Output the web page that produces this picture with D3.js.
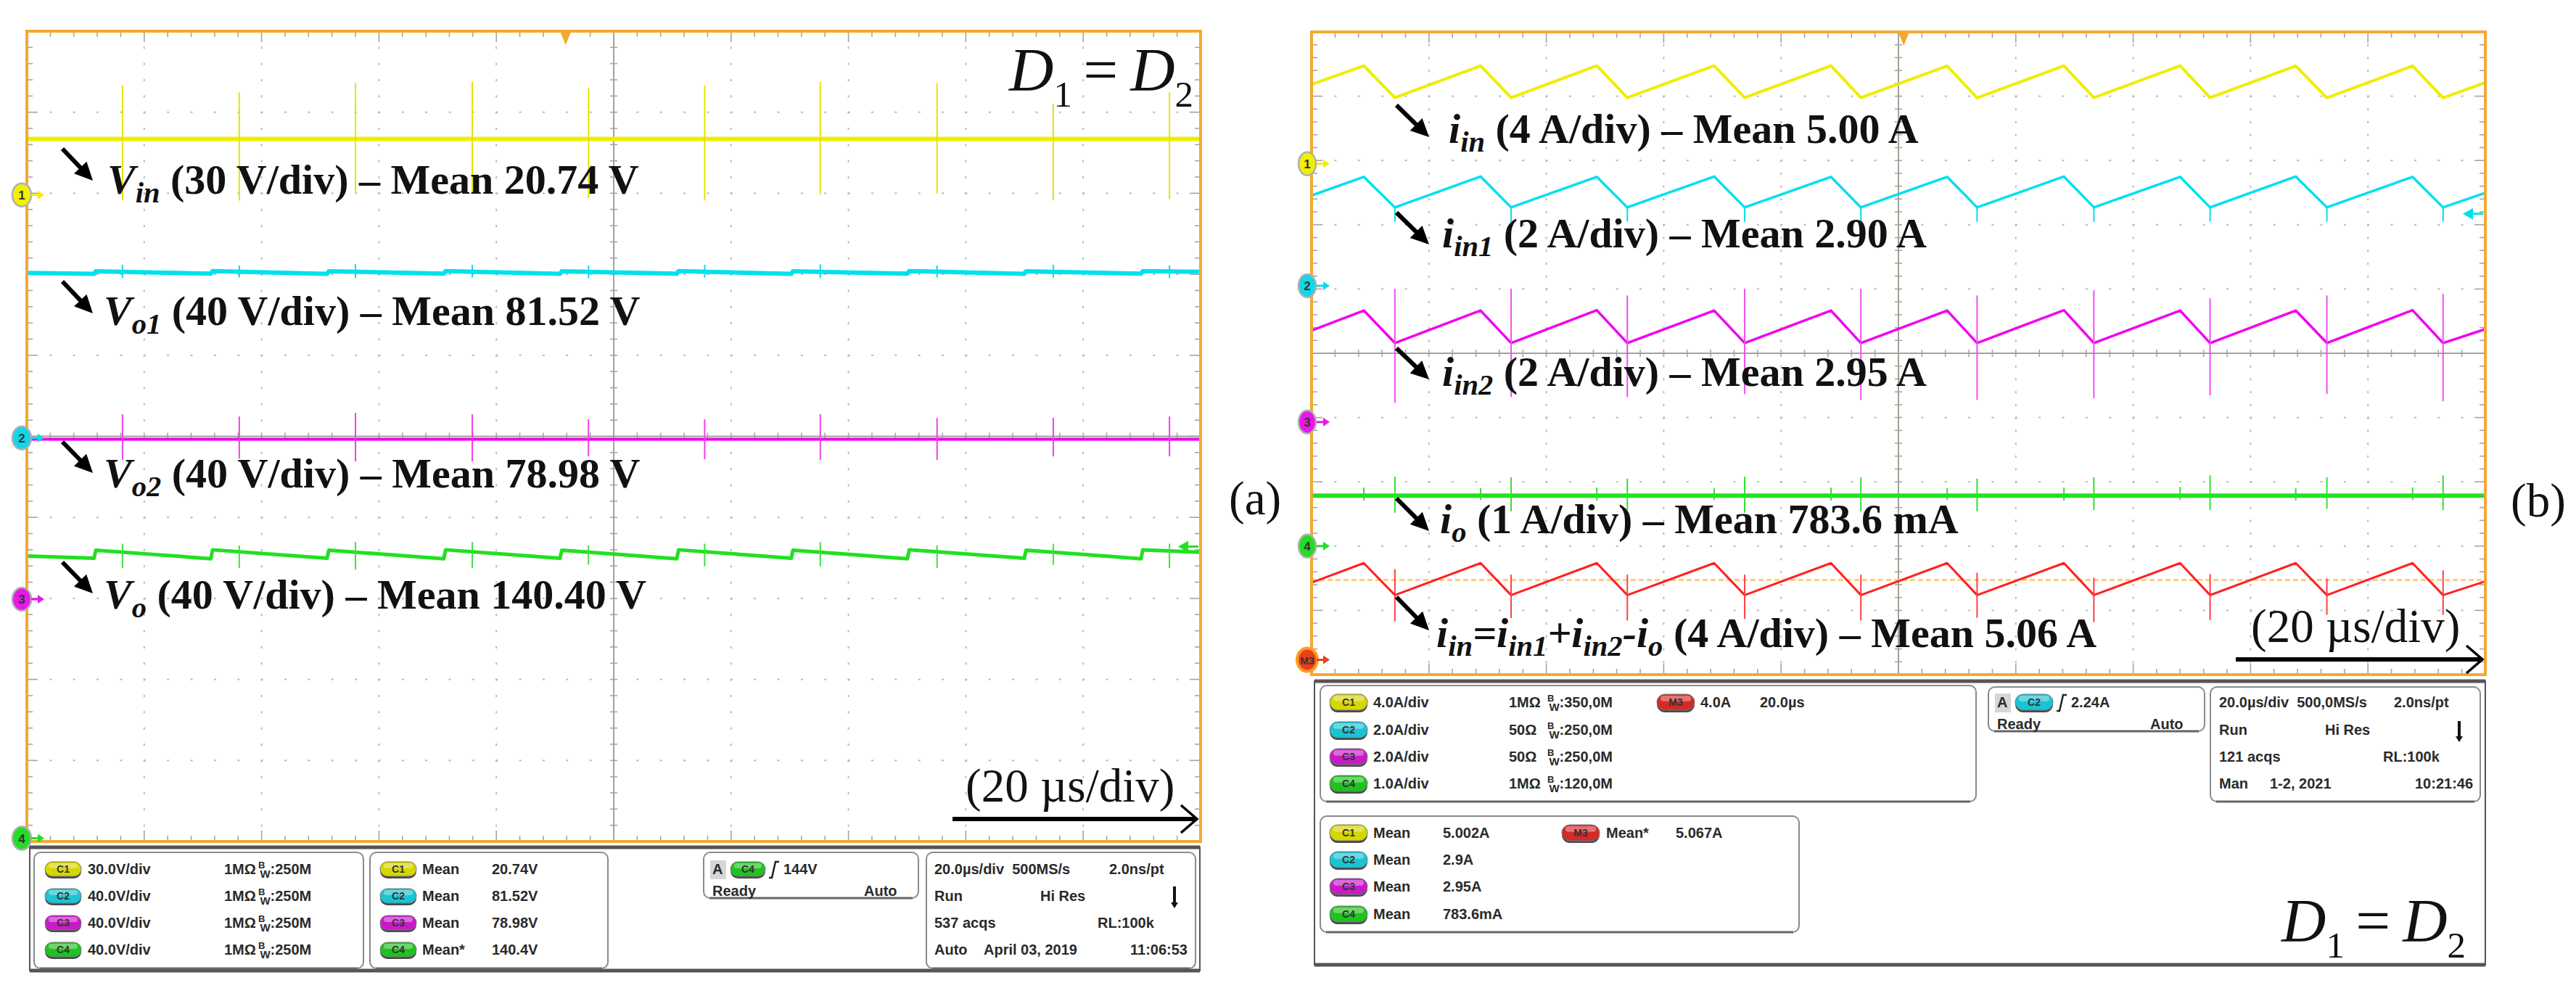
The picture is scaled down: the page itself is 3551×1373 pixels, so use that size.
<!DOCTYPE html>
<html><head><meta charset="utf-8">
<script src="https://cdn.jsdelivr.net/npm/d3@7"></script>
<style>body{margin:0;background:#fff}svg{display:block}text{white-space:pre}</style>
</head><body><svg id="chart"></svg>
<script>
// ======================= DATA =======================
const timeDomainUs = [0, 200];          // 10 div x 20 us/div
// ---- panel (a): voltages ----
const aChannelIds = ["1", "2", "3", "4"];
const aVoltsPerDiv = [30, 40, 40, 40];
const aMeanV = [20.74, 81.52, 78.98, 140.40];
const aSwitchUs = [16.3, 36.2, 56.0, 75.9, 95.7, 115.5, 135.2, 155.1, 174.9, 194.7];
const vinSpikeTopV = [40.5, 37.9, 41.4, 41.9, 39.5, 40.5, 41.9, 41.4, 33.8, 37.9];
const vinSpikeBottomV = [-2.1, -2.1, 0.5, 0.5, -1.1, -2.1, 0.3, 0.5, -2.1, -1.6];
const vo1SpikeTopV = [85.5, 85.2, 85.8, 85.5, 85.2, 85.5, 85.8, 85.2, 85.5, 85.2];
const vo1SpikeBottomV = [78.9, 79.2, 78.9, 79.2, 78.9, 79.2, 78.9, 79.2, 79.2, 78.9];
const vo2SpikeTopV = [91.3, 90.2, 92.0, 91.3, 88.8, 88.8, 91.3, 89.5, 89.5, 90.2];
const vo2SpikeBottomV = [68.8, 69.5, 68.0, 68.0, 70.5, 69.1, 68.8, 68.8, 70.5, 70.5];
const voSpikeTopV = [145.4, 144.6, 146.2, 146.2, 144.6, 145.4, 146.2, 144.6, 145.4, 145.4];
const voSpikeBottomV = [133.4, 133.4, 132.6, 133.4, 135.0, 134.2, 134.2, 133.4, 135.0, 133.4];
const aStepUs = [11.6, 31.5, 51.3, 71.2, 91.0, 110.9, 130.4, 150.2, 170.1, 190.0];
const vo1BeforeStepV = [81.0, 81.1, 81.0, 81.1, 81.0, 81.1, 81.0, 81.1, 81.0, 81.1];
const vo1AfterStepV = [82.3, 82.4, 82.3, 82.4, 82.3, 82.4, 82.3, 82.4, 82.3, 82.4];
const vo1EndsV = [81.5, 82.0];
const voBeforeStepV = [138.2, 138.0, 138.2, 138.0, 138.2, 138.0, 138.2, 138.0, 138.2, 138.0];
const voAfterStepV = [142.2, 142.4, 142.2, 142.4, 142.2, 142.4, 142.2, 142.4, 142.2, 142.4];
const voEndsV = [139.3, 141.2];
const aTriggerUs = 91.8, aTriggerLevelV = 144;

// ---- panel (b): currents ----
const bChannelIds = ["1", "2", "3", "4", "M3"];
const bAmpsPerDiv = [4, 2, 2, 1, 4];
const bMeanText = ["5.00 A", "2.90 A", "2.95 A", "783.6 mA", "5.06 A"];
const bPeakUs = [8.9, 28.8, 48.6, 68.6, 88.5, 108.3, 128.2, 148.0, 167.7, 187.6];
const bTroughUs = [14.2, 34.0, 53.8, 73.8, 93.6, 113.4, 133.3, 153.1, 173.0, 192.8];
const iinPeakA = [6.09, 6.09, 6.09, 6.09, 6.09, 6.08, 6.09, 6.09, 6.08, 6.08];
const iinTroughA = [4.11, 4.11, 4.11, 4.11, 4.11, 4.10, 4.11, 4.11, 4.10, 4.10];
const iinEndsA = [4.93, 5.05];
const iin1PeakA = [3.39, 3.40, 3.39, 3.40, 3.39, 3.39, 3.40, 3.39, 3.40, 3.39];
const iin1TroughA = [2.44, 2.44, 2.44, 2.44, 2.44, 2.44, 2.44, 2.44, 2.44, 2.44];
const iin1TickBottomA = [1.99, 1.99, 2.0, 1.99, 2.0, 1.99, 1.99, 2.0, 1.99, 1.99];
const iin1EndsA = [2.81, 2.89];
const iin2PeakA = [3.47, 3.47, 3.48, 3.47, 3.47, 3.47, 3.48, 3.47, 3.47, 3.48];
const iin2TroughA = [2.46, 2.46, 2.46, 2.46, 2.46, 2.46, 2.46, 2.46, 2.46, 2.46];
const iin2SpikeTopA = [4.15, 4.15, 3.94, 4.15, 4.15, 3.94, 4.10, 3.85, 3.94, 3.99];
const iin2SpikeBottomA = [0.60, 0.78, 0.78, 0.87, 0.69, 0.69, 0.74, 0.83, 0.87, 0.65];
const iin2EndsA = [2.85, 2.89];
const ioLevelA = 0.7836;
const ioSpikeTopA = [1.08, 1.07, 1.05, 1.08, 1.07, 1.05, 1.07, 1.10, 1.07, 1.10];
const ioSpikeBottomA = [0.52, 0.54, 0.56, 0.52, 0.54, 0.54, 0.56, 0.56, 0.58, 0.56];
const ioSmallTopA = [0.91, 0.90, 0.91, 0.90, 0.91, 0.90, 0.91, 0.92, 0.90, 0.91];
const ioSmallBottomA = [0.71, 0.72, 0.71, 0.72, 0.71, 0.72, 0.71, 0.72, 0.71, 0.72];
const m3PeakA = [6.02, 6.02, 6.02, 6.02, 6.02, 6.02, 6.02, 6.02, 6.02, 6.02];
const m3TroughA = [4.03, 4.03, 4.03, 4.03, 4.03, 4.03, 4.03, 4.03, 4.03, 4.03];
const m3SpikeTopA = [5.64, 5.30, 5.30, 5.30, 5.30, 5.42, 5.11, 5.34, 5.06, 5.57];
const m3SpikeBottomA = [2.39, 2.60, 2.45, 2.55, 2.45, 2.62, 2.35, 2.48, 2.80, 2.80];
const m3EndsA = [4.81, 4.89];
const m3RefA = 4.97;
const bTriggerUs = 100.9, bTriggerLevelA = 2.24;

// ---- readout panels ----
const aSetupRows = [["C1", "30.0V/div", "1MΩ", "250M"], ["C2", "40.0V/div", "1MΩ", "250M"], ["C3", "40.0V/div", "1MΩ", "250M"], ["C4", "40.0V/div", "1MΩ", "250M"]];
const aMeasRows = [["C1", "Mean", "20.74V"], ["C2", "Mean", "81.52V"], ["C3", "Mean", "78.98V"], ["C4", "Mean*", "140.4V"]];
const aTrig = ["C4", "144V"];
const aAcq = [["20.0µs/div  500MS/s", "2.0ns/pt"], ["Run", "Hi Res"], ["537 acqs", "RL:100k"], ["Auto", "April 03, 2019", "11:06:53"]];
const bSetupRows = [["C1", "4.0A/div", "1MΩ", "350,0M"], ["C2", "2.0A/div", "50Ω", "250,0M"], ["C3", "2.0A/div", "50Ω", "250,0M"], ["C4", "1.0A/div", "1MΩ", "120,0M"]];
const bMathRow = ["M3", "4.0A", "20.0µs"];
const bMeasRows = [["C1", "Mean", "5.002A"], ["C2", "Mean", "2.9A"], ["C3", "Mean", "2.95A"], ["C4", "Mean", "783.6mA"]];
const bMathMeas = ["M3", "Mean*", "5.067A"];
const bTrig = ["C2", "2.24A"];
const bAcq = [["20.0µs/div  500,0MS/s", "2.0ns/pt"], ["Run", "Hi Res"], ["121 acqs", "RL:100k"], ["Man", "1-2, 2021", "10:21:46"]];

// ======================= LAYOUT / STYLE =======================
const W = 3551, H = 1373;
const SERIF = "'Liberation Serif','Times New Roman',Times,serif";
const SANS = "'Liberation Sans',Arial,Helvetica,sans-serif";
const ORANGE = "#f4a834";
const COL = {"1": "#eeee00", "2": "#00e0ee", "3": "#f000f0", "4": "#22e022", "M3": "#ff2020"};
const BADGE = {C1: "#d6d600", C2: "#19c4d4", C3: "#c81ac8", C4: "#1fc21f", M3: "#d42a2a"};
const MARK = {"1": "#f0f000", "2": "#10d8e8", "3": "#e818e8", "4": "#22dd22", "M3": "#e8401c"};
const PA = {x: 37, y: 43, w: 1618, h: 1117};
const PB = {x: 1808, y: 44, w: 1618, h: 886};
const aOffsetDiv = [2.98, -0.02, -2.01, -4.96];
const bOffsetDiv = [2.95, 1.05, -1.07, -3.0, -4.77];

const svg = d3.select("#chart").attr("width", W).attr("height", H);
svg.append("rect").attr("width", W).attr("height", H).attr("fill", "#fff");

function makeScales(P) {
  const x = d3.scaleLinear(timeDomainUs, [P.x, P.x + P.w]);
  const yDiv = d3.scaleLinear([-5, 5], [P.y + P.h, P.y]);
  return {x, yDiv};
}
function chanScale(P, off, perDiv) {
  return d3.scaleLinear([(-5 - off) * perDiv, (5 - off) * perDiv], [P.y + P.h, P.y]);
}

function graticule(g, P, S) {
  const {x, yDiv} = S;
  const isMajor = v => Math.abs(v - Math.round(v)) < 1e-6;
  const minorT = d3.range(0, 200.001, 4);
  const minorV = d3.range(-50, 51).map(k => k / 10).filter((v, i) => i % 2 === 0);
  const dots = g.append("g").attr("fill", "#b8b8b8");
  d3.range(20, 200, 20).filter(t => t !== 100).forEach(t => {
    minorV.forEach(v => { if (v > -5 && v < 5) dots.append("rect").attr("x", x(t) - 1).attr("y", yDiv(v) - 1).attr("width", 2).attr("height", 3); });
  });
  d3.range(-4, 5).filter(v => v !== 0).forEach(v => {
    minorT.forEach(t => { if (t > 0 && t < 200) dots.append("rect").attr("x", x(t) - 1).attr("y", yDiv(v) - 1).attr("width", 3).attr("height", 2); });
  });
  const cc = "#a8a292";
  g.append("line").attr("x1", x(100)).attr("x2", x(100)).attr("y1", P.y).attr("y2", P.y + P.h).attr("stroke", cc).attr("stroke-width", 2);
  g.append("line").attr("x1", P.x).attr("x2", P.x + P.w).attr("y1", yDiv(0)).attr("y2", yDiv(0)).attr("stroke", cc).attr("stroke-width", 2);
  const tk = g.append("g").attr("stroke", "#a4a4a4").attr("stroke-width", 1.6);
  minorT.forEach(t => {
    const L = (t % 20 === 0) ? 15 : 8;
    tk.append("line").attr("x1", x(t)).attr("x2", x(t)).attr("y1", P.y).attr("y2", P.y + L);
    tk.append("line").attr("x1", x(t)).attr("x2", x(t)).attr("y1", P.y + P.h).attr("y2", P.y + P.h - L);
    tk.append("line").attr("x1", x(t)).attr("x2", x(t)).attr("y1", yDiv(0) - 5).attr("y2", yDiv(0) + 5);
  });
  minorV.forEach(v => {
    const L = isMajor(v) ? 15 : 8;
    tk.append("line").attr("y1", yDiv(v)).attr("y2", yDiv(v)).attr("x1", P.x).attr("x2", P.x + L);
    tk.append("line").attr("y1", yDiv(v)).attr("y2", yDiv(v)).attr("x1", P.x + P.w).attr("x2", P.x + P.w - L);
    tk.append("line").attr("y1", yDiv(v)).attr("y2", yDiv(v)).attr("x1", x(100) - 5).attr("x2", x(100) + 5);
  });
}
function frame(g, P) {
  g.append("rect").attr("x", P.x).attr("y", P.y).attr("width", P.w).attr("height", P.h)
    .attr("fill", "none").attr("stroke", ORANGE).attr("stroke-width", 4);
}
function triggerMark(g, P, xs, t) {
  const cx = xs(t);
  g.append("path").attr("d", `M${cx - 7},${P.y + 2} L${cx + 7},${P.y + 2} L${cx},${P.y + 19} Z`).attr("fill", ORANGE);
}
function levelArrow(g, P, y, color) {
  const xr = P.x + P.w - 3;
  g.append("line").attr("x1", xr - 18).attr("x2", xr).attr("y1", y).attr("y2", y).attr("stroke", color).attr("stroke-width", 3);
  g.append("path").attr("d", `M${xr - 28},${y} L${xr - 14},${y - 8} L${xr - 14},${y + 8} Z`).attr("fill", color);
}
function chanMarker(g, cx, y, id, rx) {
  const c = MARK[id];
  g.append("ellipse").attr("cx", cx).attr("cy", y).attr("rx", id === "M3" ? 14 : rx).attr("ry", 16)
    .attr("fill", c).attr("stroke", id === "M3" ? "#ff9a20" : "#b0b0b0").attr("stroke-width", id === "M3" ? 4 : 2.5);
  g.append("text").attr("x", cx).attr("y", y + 6).attr("text-anchor", "middle").attr("font-family", SANS)
    .attr("font-size", id === "M3" ? 14 : 17).attr("font-weight", "bold").attr("fill", "#333").text(id);
  g.append("line").attr("x1", cx + 13).attr("x2", cx + 26).attr("y1", y).attr("y2", y).attr("stroke", c).attr("stroke-width", 3);
  g.append("path").attr("d", `M${cx + 31},${y} L${cx + 22},${y - 6} L${cx + 22},${y + 6} Z`).attr("fill", c);
}
function spikes(g, xs, ys, times, tops, bots, color, w) {
  g.append("g").selectAll("line").data(times).join("line")
    .attr("x1", d => xs(d)).attr("x2", d => xs(d))
    .attr("y1", (d, i) => ys(tops[i])).attr("y2", (d, i) => ys(bots[i]))
    .attr("stroke", color).attr("stroke-width", w);
}
function trace(g, xs, ys, pts, color, w) {
  g.append("path").datum(pts).attr("d", d3.line().x(d => xs(d.t)).y(d => ys(d.v)))
    .attr("fill", "none").attr("stroke", color).attr("stroke-width", w).attr("stroke-linejoin", "round");
}
function stepPts(steps, before, after, ends) {
  const p = [{t: 0, v: ends[0]}];
  steps.forEach((s, i) => { p.push({t: s - 0.15, v: before[i]}); p.push({t: s + 0.15, v: after[i]}); });
  p.push({t: 200, v: ends[1]});
  return p;
}
function triPts(peaksT, peaksV, troughT, troughV, ends) {
  const p = [{t: 0, v: ends[0]}];
  peaksT.forEach((t, i) => { p.push({t, v: peaksV[i]}); p.push({t: troughT[i], v: troughV[i]}); });
  p.push({t: 200, v: ends[1]});
  return p;
}
function richLabel(g, x, y, parts, size) {
  const t = g.append("text").attr("x", x).attr("y", y).attr("font-family", SERIF)
    .attr("font-size", size).attr("font-weight", "bold").attr("fill", "#111");
  let inSub = false; const off = size * 0.2;
  parts.forEach(p => {
    const s = t.append("tspan").text(p.t);
    if (p.it) s.attr("font-style", "italic");
    if (p.sub) { s.attr("font-size", size * 0.7); if (!inSub) s.attr("dy", off); inSub = true; }
    else { if (inSub) s.attr("dy", -off); inSub = false; }
  });
}
function pointer(g, x1, y1, x2, y2) {
  const dx = x2 - x1, dy = y2 - y1, L = Math.hypot(dx, dy), ux = dx / L, uy = dy / L;
  const hl = 25, hw = 12, bx = x2 - ux * hl, by = y2 - uy * hl;
  g.append("line").attr("x1", x1).attr("y1", y1).attr("x2", bx + ux * 4).attr("y2", by + uy * 4).attr("stroke", "#000").attr("stroke-width", 6);
  g.append("path").attr("d", `M${x2},${y2} L${bx - uy * hw},${by + ux * hw} L${bx + uy * hw},${by - ux * hw} Z`).attr("fill", "#000");
}
function dEqual(g, x, y, size) {
  const t = g.append("text").attr("x", x).attr("y", y).attr("font-family", SERIF).attr("font-size", size).attr("fill", "#111");
  t.append("tspan").attr("font-style", "italic").text("D");
  t.append("tspan").attr("font-size", size * 0.6).attr("dy", size * 0.26).text("1");
  t.append("tspan").attr("dy", -size * 0.26).attr("dx", size * 0.18).text("=");
  t.append("tspan").attr("font-style", "italic").attr("dx", size * 0.2).text("D");
  t.append("tspan").attr("font-size", size * 0.6).attr("dy", size * 0.26).text("2");
}
function timeArrow(g, x, y, x1, x2, ya) {
  g.append("text").attr("x", x).attr("y", y).attr("font-family", SERIF).attr("font-size", 65).attr("fill", "#111").text("(20 µs/div)");
  g.append("line").attr("x1", x1).attr("x2", x2 - 3).attr("y1", ya).attr("y2", ya).attr("stroke", "#000").attr("stroke-width", 6);
  g.append("path").attr("d", `M${x2 - 22},${ya - 19} L${x2},${ya} L${x2 - 22},${ya + 19}`).attr("fill", "none").attr("stroke", "#000").attr("stroke-width", 3.5);
}

// ======================= PANEL (a) =======================
const SA = makeScales(PA);
const gA = svg.append("g");
graticule(gA, PA, SA);
const yA = aOffsetDiv.map((o, i) => chanScale(PA, o, aVoltsPerDiv[i]));
const trA = gA.append("g");
trace(trA, SA.x, yA[0], [{t: 0, v: aMeanV[0]}, {t: 200, v: aMeanV[0]}], COL["1"], 6);
spikes(trA, SA.x, yA[0], aSwitchUs, vinSpikeTopV, vinSpikeBottomV, "#e4e400", 2);
trace(trA, SA.x, yA[1], stepPts(aStepUs, vo1BeforeStepV, vo1AfterStepV, vo1EndsV), COL["2"], 6);
spikes(trA, SA.x, yA[1], aSwitchUs, vo1SpikeTopV, vo1SpikeBottomV, COL["2"], 2);
trace(trA, SA.x, yA[2], [{t: 0, v: aMeanV[2]}, {t: 200, v: aMeanV[2]}], COL["3"], 4);
spikes(trA, SA.x, yA[2], aSwitchUs, vo2SpikeTopV, vo2SpikeBottomV, "#f040f0", 2);
trace(trA, SA.x, yA[3], stepPts(aStepUs, voBeforeStepV, voAfterStepV, voEndsV), COL["4"], 5);
spikes(trA, SA.x, yA[3], aSwitchUs, voSpikeTopV, voSpikeBottomV, "#40e040", 2);
frame(gA, PA);
triggerMark(gA, PA, SA.x, aTriggerUs);
levelArrow(gA, PA, yA[3](aTriggerLevelV), COL["4"]);
aChannelIds.forEach((id, i) => chanMarker(gA, PA.x - 7, yA[i](0), id, 13));

const f2 = d3.format(".2f");
const aLab = gA.append("g");
const aVarSubs = ["in", "o1", "o2", "o"];
const aLabelPos = [[148, 267], [143, 448], [143, 672], [143, 839]];
const aArrowPos = [[86, 205, 128, 249], [86, 388, 128, 432], [86, 609, 128, 652], [86, 775, 128, 818]];
aVarSubs.forEach((s, i) => {
  richLabel(aLab, aLabelPos[i][0], aLabelPos[i][1],
    [{t: "V", it: 1}, {t: s, it: 1, sub: 1}, {t: ` (${aVoltsPerDiv[i]} V/div) – Mean ${f2(aMeanV[i])} V`}], 58);
  pointer(aLab, ...aArrowPos[i]);
});
dEqual(gA, 1391, 125, 85);
timeArrow(gA, 1331, 1105, 1313, 1650, 1129);
svg.append("text").attr("x", 1694).attr("y", 709).attr("font-family", SERIF).attr("font-size", 65).attr("fill", "#111").text("(a)");

// ======================= PANEL (b) =======================
const SB = makeScales(PB);
const gB = svg.append("g");
graticule(gB, PB, SB);
const yB = bOffsetDiv.map((o, i) => chanScale(PB, o, bAmpsPerDiv[i]));
const trB = gB.append("g");
trB.append("line").attr("x1", PB.x).attr("x2", PB.x + PB.w).attr("y1", yB[4](m3RefA)).attr("y2", yB[4](m3RefA))
  .attr("stroke", "#ffcc80").attr("stroke-width", 3).attr("stroke-dasharray", "7 4");
trace(trB, SB.x, yB[0], triPts(bPeakUs, iinPeakA, bTroughUs, iinTroughA, iinEndsA), COL["1"], 4);
trace(trB, SB.x, yB[1], triPts(bPeakUs, iin1PeakA, bTroughUs, iin1TroughA, iin1EndsA), COL["2"], 3.5);
spikes(trB, SB.x, yB[1], bTroughUs, iin1TroughA, iin1TickBottomA, COL["2"], 2);
trace(trB, SB.x, yB[2], triPts(bPeakUs, iin2PeakA, bTroughUs, iin2TroughA, iin2EndsA), COL["3"], 3.5);
spikes(trB, SB.x, yB[2], bTroughUs, iin2SpikeTopA, iin2SpikeBottomA, "#f050f0", 2);
trace(trB, SB.x, yB[3], [{t: 0, v: ioLevelA}, {t: 200, v: ioLevelA}], COL["4"], 6);
spikes(trB, SB.x, yB[3], bTroughUs, ioSpikeTopA, ioSpikeBottomA, "#30e030", 2);
spikes(trB, SB.x, yB[3], bPeakUs, ioSmallTopA, ioSmallBottomA, "#30e030", 2);
trace(trB, SB.x, yB[4], triPts(bPeakUs, m3PeakA, bTroughUs, m3TroughA, m3EndsA), COL["M3"], 3);
spikes(trB, SB.x, yB[4], bTroughUs, m3SpikeTopA, m3SpikeBottomA, "#ff4040", 2);
frame(gB, PB);
triggerMark(gB, PB, SB.x, bTriggerUs);
levelArrow(gB, PB, yB[1](bTriggerLevelA), COL["2"]);
bChannelIds.forEach((id, i) => chanMarker(gB, PB.x - 6, yB[i](0), id, 12));

const bLab = gB.append("g");
const bLabelParts = [
  [{t: "i", it: 1}, {t: "in", it: 1, sub: 1}],
  [{t: "i", it: 1}, {t: "in1", it: 1, sub: 1}],
  [{t: "i", it: 1}, {t: "in2", it: 1, sub: 1}],
  [{t: "i", it: 1}, {t: "o", it: 1, sub: 1}],
  [{t: "i", it: 1}, {t: "in", it: 1, sub: 1}, {t: "=", it: 1}, {t: "i", it: 1}, {t: "in1", it: 1, sub: 1}, {t: "+", it: 1},
   {t: "i", it: 1}, {t: "in2", it: 1, sub: 1}, {t: "-", it: 1}, {t: "i", it: 1}, {t: "o", it: 1, sub: 1}]
];
const bLabelPos = [[1997, 197], [1988, 341], [1988, 532], [1985, 735], [1980, 892]];
const bArrowPos = [[1925, 145, 1970, 189], [1925, 293, 1970, 337], [1925, 480, 1970, 523], [1925, 687, 1970, 732], [1925, 823, 1970, 869]];
bLabelParts.forEach((parts, i) => {
  richLabel(bLab, bLabelPos[i][0], bLabelPos[i][1], parts.concat([{t: ` (${bAmpsPerDiv[i]} A/div) – Mean ${bMeanText[i]}`}]), 58);
  pointer(bLab, ...bArrowPos[i]);
});
timeArrow(gB, 3103, 885, 3082, 3422, 909);
svg.append("text").attr("x", 3461).attr("y", 712).attr("font-family", SERIF).attr("font-size", 65).attr("fill", "#111").text("(b)");

// ======================= READOUT PANELS =======================
function badge(g, x, cy, w, h, label) {
  const y = cy - h / 2;
  g.append("rect").attr("x", x).attr("y", y + 3).attr("width", w).attr("height", h).attr("rx", h / 2).attr("fill", "#4a4a4a");
  g.append("rect").attr("x", x).attr("y", y).attr("width", w).attr("height", h).attr("rx", h / 2).attr("fill", BADGE[label]).attr("stroke", "#777").attr("stroke-width", 1);
  g.append("rect").attr("x", x + 5).attr("y", y + 2).attr("width", w - 10).attr("height", h * 0.35).attr("rx", h * 0.17).attr("fill", "#fff").attr("opacity", 0.35);
  g.append("text").attr("x", x + w / 2).attr("y", cy + 5).attr("text-anchor", "middle").attr("font-family", SANS)
    .attr("font-size", 14).attr("font-weight", "bold").attr("fill", "#333").text(label);
}
function txt(g, x, cy, s, size) {
  return g.append("text").attr("x", x).attr("y", cy + 7).attr("font-family", SANS).attr("font-size", size || 20)
    .attr("font-weight", "bold").attr("fill", "#2a2a2a").text(s);
}
function bw(g, x, cy, s) {
  const t = g.append("text").attr("x", x).attr("y", cy + 7).attr("font-family", SANS).attr("font-size", 20).attr("font-weight", "bold").attr("fill", "#2a2a2a");
  t.append("tspan").attr("font-size", 13).attr("dy", -8).text("B");
  t.append("tspan").attr("font-size", 15).attr("dy", 13).attr("dx", -7).text("W");
  t.append("tspan").attr("dy", -5).text(":" + s);
}
function box(g, x, y, w, h) {
  g.append("rect").attr("x", x).attr("y", y).attr("width", w).attr("height", h).attr("rx", 9)
    .attr("fill", "#fff").attr("stroke", "#8a8a8a").attr("stroke-width", 2);
  g.append("line").attr("x1", x + 8).attr("x2", x + w - 8).attr("y1", y + h).attr("y2", y + h).attr("stroke", "#666").attr("stroke-width", 3);
}
function outer(g, x, y, w, h) {
  g.append("rect").attr("x", x).attr("y", y).attr("width", w).attr("height", h).attr("fill", "#fff").attr("stroke", "#555").attr("stroke-width", 2);
  g.append("line").attr("x1", x).attr("x2", x + w).attr("y1", y).attr("y2", y).attr("stroke", "#555").attr("stroke-width", 5);
  g.append("line").attr("x1", x).attr("x2", x + w).attr("y1", y + h).attr("y2", y + h).attr("stroke", "#555").attr("stroke-width", 5);
}
function slope(g, x, cy) {
  g.append("path").attr("d", `M${x},${cy + 12} L${x + 4},${cy + 12} L${x + 9},${cy - 10} L${x + 14},${cy - 10}`)
    .attr("fill", "none").attr("stroke", "#222").attr("stroke-width", 2.5);
}
function downArrow(g, x, y1, y2) {
  g.append("line").attr("x1", x).attr("x2", x).attr("y1", y1).attr("y2", y2 - 6).attr("stroke", "#111").attr("stroke-width", 4);
  g.append("path").attr("d", `M${x - 5},${y2 - 8} L${x + 5},${y2 - 8} L${x},${y2} Z`).attr("fill", "#111");
}
function trigBox(g, x, y, w, h, rowA, rowB, trig, bw_) {
  box(g, x, y, w, h);
  g.append("rect").attr("x", x + 9).attr("y", rowA - 12).attr("width", 22).attr("height", 26).attr("fill", "#d6d6d6");
  txt(g, x + 12, rowA, "A");
  badge(g, x + 37, rowA, bw_, bw_ > 50 ? 22 : 20, trig[0]);
  slope(g, x + 42 + bw_, rowA);
  txt(g, x + 62 + bw_, rowA, trig[1]);
  txt(g, x + 12, rowB, "Ready");
  txt(g, x + w - 75, rowB, "Auto");
}

// ---- (a) readout ----
const rA = svg.append("g");
outer(rA, 41, 1168, 1613, 170);
const rowsA = [1198, 1235, 1272, 1309];
box(rA, 47, 1175, 454, 160);
aSetupRows.forEach((r, i) => { badge(rA, 62, rowsA[i], 50, 20, r[0]); txt(rA, 121, rowsA[i], r[1]); txt(rA, 309, rowsA[i], r[2]); bw(rA, 356, rowsA[i], r[3]); });
box(rA, 510, 1175, 328, 160);
aMeasRows.forEach((r, i) => { badge(rA, 524, rowsA[i], 50, 20, r[0]); txt(rA, 582, rowsA[i], r[1]); txt(rA, 678, rowsA[i], r[2]); });
trigBox(rA, 970, 1175, 296, 63, 1198, 1228, aTrig, 48);
box(rA, 1277, 1175, 371, 160);
txt(rA, 1288, rowsA[0], aAcq[0][0]); txt(rA, 1529, rowsA[0], aAcq[0][1]);
txt(rA, 1288, rowsA[1], aAcq[1][0]); txt(rA, 1434, rowsA[1], aAcq[1][1]); downArrow(rA, 1619, 1222, 1252);
txt(rA, 1288, rowsA[2], aAcq[2][0]); txt(rA, 1513, rowsA[2], aAcq[2][1]);
txt(rA, 1288, rowsA[3], aAcq[3][0]); txt(rA, 1356, rowsA[3], aAcq[3][1]); txt(rA, 1558, rowsA[3], aAcq[3][2]);

// ---- (b) readout ----
const rB = svg.append("g");
outer(rB, 1812, 939, 1614, 391);
const rowsB1 = [968, 1006, 1043, 1080], rowsB2 = [1148, 1185, 1222, 1260];
box(rB, 1820, 945, 904, 160);
bSetupRows.forEach((r, i) => { badge(rB, 1833, rowsB1[i], 52, 22, r[0]); txt(rB, 1893, rowsB1[i], r[1]); txt(rB, 2080, rowsB1[i], r[2]); bw(rB, 2133, rowsB1[i], r[3]); });
badge(rB, 2284, rowsB1[0], 52, 22, bMathRow[0]); txt(rB, 2344, rowsB1[0], bMathRow[1]); txt(rB, 2426, rowsB1[0], bMathRow[2]);
box(rB, 1820, 1125, 660, 160);
bMeasRows.forEach((r, i) => { badge(rB, 1833, rowsB2[i], 52, 22, r[0]); txt(rB, 1893, rowsB2[i], r[1]); txt(rB, 1989, rowsB2[i], r[2]); });
badge(rB, 2153, rowsB2[0], 52, 22, bMathMeas[0]); txt(rB, 2214, rowsB2[0], bMathMeas[1]); txt(rB, 2310, rowsB2[0], bMathMeas[2]);
trigBox(rB, 2741, 947, 298, 61, 968, 998, bTrig, 52);
box(rB, 3047, 947, 372, 158);
txt(rB, 3059, rowsB1[0], bAcq[0][0]); txt(rB, 3300, rowsB1[0], bAcq[0][1]);
txt(rB, 3059, rowsB1[1], bAcq[1][0]); txt(rB, 3205, rowsB1[1], bAcq[1][1]); downArrow(rB, 3390, 994, 1023);
txt(rB, 3059, rowsB1[2], bAcq[2][0]); txt(rB, 3285, rowsB1[2], bAcq[2][1]);
txt(rB, 3059, rowsB1[3], bAcq[3][0]); txt(rB, 3129, rowsB1[3], bAcq[3][1]); txt(rB, 3329, rowsB1[3], bAcq[3][2]);
dEqual(rB, 3145, 1298, 85);
</script></body></html>
